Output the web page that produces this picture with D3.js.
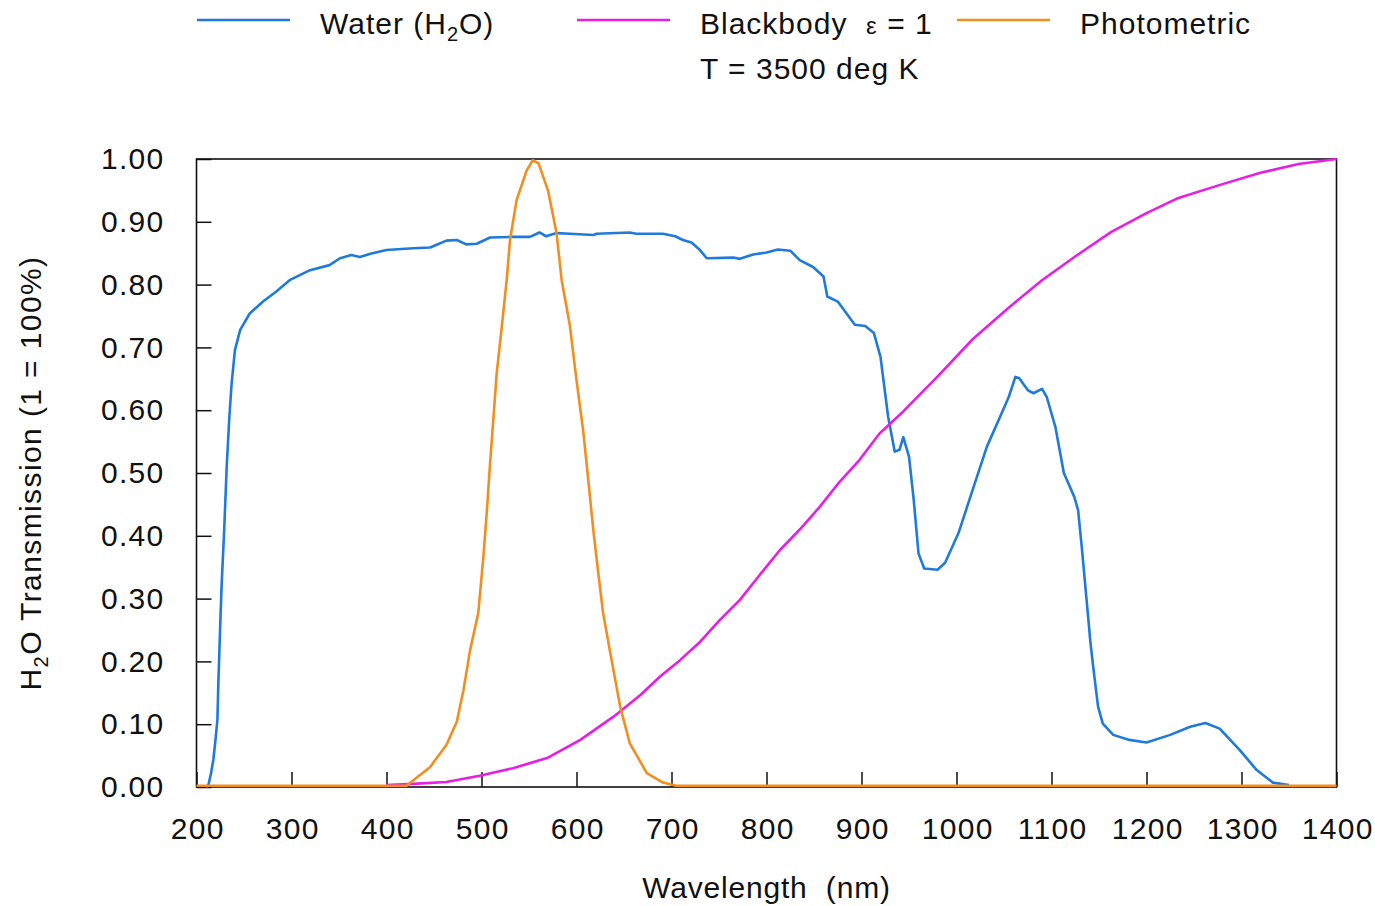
<!DOCTYPE html>
<html>
<head>
<meta charset="utf-8">
<script src="https://cdn.jsdelivr.net/npm/d3@7"></script>
<style>
    body { margin: 0; background: #fff; }
    text { font-family: "Liberation Sans", Arial, sans-serif; fill: #111; white-space: pre; }
</style>
</head>
<body>
<div class="container"></div>
<script>
// wavelength (nm), transmission (1 = 100%)
var waterData = [
    [210,0],[212.5,0.003],[215,0.02],[217.7,0.043],[220,0.075],[222,0.107],[223,0.165],[224.7,0.245],
    [226.5,0.324],[229,0.404],[231.8,0.51],[234.6,0.59],[237,0.643],[240.5,0.696],[246,0.728],[256,0.754],
    [270,0.773],[284,0.789],[298,0.807],[319.5,0.823],[340,0.831],[351,0.842],[363,0.847],[372,0.844],
    [383,0.849],[400,0.855],[428,0.858],[446,0.859],[463,0.87],[474,0.871],[484,0.864],[495,0.865],
    [509,0.875],[533,0.876],[551,0.876],[561,0.883],[568,0.877],[579,0.882],[593,0.881],[618,0.879],
    [621,0.881],[656,0.883],[663,0.881],[691,0.881],[704,0.877],[712,0.871],[721,0.867],[730,0.855],
    [737,0.842],[765,0.843],[772,0.841],[786,0.848],[800,0.851],[812,0.856],[825,0.854],[835,0.839],
    [849,0.828],[860,0.813],[864,0.781],[875,0.773],[893,0.736],[904,0.734],[913,0.723],[920,0.685],
    [928,0.59],[935,0.534],[940,0.537],[944,0.557],[950,0.526],[955,0.457],[960,0.372],[966,0.348],
    [980,0.346],[988,0.357],[1002,0.404],[1017,0.473],[1032,0.542],[1046,0.59],[1055,0.621],[1062,0.653],
    [1066,0.651],[1075,0.632],[1081,0.627],[1090,0.634],[1095,0.621],[1104,0.574],[1113,0.5],[1124,0.462],
    [1128,0.441],[1132,0.38],[1135,0.33],[1138,0.28],[1141,0.23],[1144,0.19],[1149,0.128],[1154,0.101],
    [1165,0.083],[1182,0.075],[1200,0.071],[1225,0.083],[1246,0.096],[1262,0.102],[1277,0.093],[1298,0.059],
    [1316,0.027],[1333,0.007],[1350,0.003]
];

var blackbodyData = [
    [400,0.003],[428,0.005],[463,0.008],[498,0.018],[533,0.03],[569,0.046],[604,0.075],[639,0.112],
    [667,0.146],[688,0.176],[709,0.202],[730,0.231],[751,0.266],[772,0.298],[793,0.338],[814,0.377],
    [835,0.41],[856,0.446],[877,0.486],[898,0.521],[919,0.563],[944,0.598],[981,0.655],[1017,0.713],
    [1054,0.762],[1090,0.807],[1126,0.846],[1163,0.884],[1199,0.913],[1232,0.937],[1280,0.96],
    [1320,0.978],[1360,0.992],[1400,1.0]
];

var photometricData = [
    [200,0.002],[421,0.002],[446,0.032],[463,0.067],[474,0.104],[481,0.154],[488,0.218],[496.6,0.277],
    [502,0.367],[505.5,0.436],[509,0.515],[512.4,0.584],[516,0.659],[521,0.728],[526.5,0.807],[530,0.871],
    [537,0.935],[547.6,0.982],[554,0.998],[560,0.993],[570,0.95],[579,0.882],[584.4,0.807],[593,0.735],
    [600,0.648],[607,0.568],[612.4,0.489],[617.7,0.409],[623,0.34],[628,0.277],[635,0.218],[646,0.128],
    [656,0.07],[674,0.022],[691,0.007],[705,0.002],[1400,0.002]
];

var xTicks = [200,300,400,500,600,700,800,900,1000,1100,1200,1300,1400];
var yTicks = [0,0.1,0.2,0.3,0.4,0.5,0.6,0.7,0.8,0.9,1.0];

var width = 1375, height = 906;
var plotLeft = 196.5, plotRight = 1336.5, plotTop = 159, plotBottom = 787;
var fontSize = 30;

var svg = d3.select(".container")
    .append("svg")
    .attr("width", width)
    .attr("height", height);

var x = d3.scaleLinear().domain([200, 1400]).range([plotLeft, plotRight]);
var y = d3.scaleLinear().domain([0, 1]).range([plotBottom, plotTop]);

// ticks point into the plot
var xAxis = svg.append("g")
    .attr("transform", "translate(0," + plotBottom + ")")
    .call(d3.axisBottom(x).tickValues(xTicks).tickSize(-15).tickPadding(31).tickFormat(d3.format("d")));
var yAxis = svg.append("g")
    .attr("transform", "translate(" + plotLeft + ",0)")
    .call(d3.axisLeft(y).tickValues(yTicks).tickSize(-15).tickPadding(32).tickFormat(d3.format(".2f")));

[xAxis, yAxis].forEach(function (g) {
    g.select(".domain").remove();
    g.selectAll(".tick line").attr("stroke", "#111").attr("stroke-width", 1.5);
    g.selectAll(".tick text")
        .style("font-family", '"Liberation Sans", Arial, sans-serif')
        .style("font-size", fontSize + "px")
        .style("letter-spacing", "1.3px")
        .attr("fill", "#111");
});
// letter-spacing pads the end, so recentre the bottom labels
xAxis.selectAll(".tick text").attr("dx", 0.65);

svg.append("rect")
    .attr("x", plotLeft).attr("y", plotTop)
    .attr("width", plotRight - plotLeft).attr("height", plotBottom - plotTop)
    .attr("fill", "none").attr("stroke", "#111").attr("stroke-width", 1.6);

var line = d3.line()
    .x(function (d) { return x(d[0]); })
    .y(function (d) { return y(d[1]); });

var series = [
    { name: "water", data: waterData, color: "#1f7ad9" },
    { name: "blackbody", data: blackbodyData, color: "#e61ee6" },
    { name: "photometric", data: photometricData, color: "#f28e1f" }
];

svg.selectAll(".series")
    .data(series)
    .enter()
    .append("path")
    .attr("class", "series")
    .attr("d", function (d) { return line(d.data); })
    .attr("fill", "none")
    .attr("stroke", function (d) { return d.color; })
    .attr("stroke-width", 2.6)
    .attr("stroke-linejoin", "round");

// legend
var legendX = [197, 577, 957];
var legend = svg.selectAll(".legend")
    .data(series)
    .enter()
    .append("g")
    .attr("class", "legend")
    .attr("transform", function (d, i) { return "translate(" + legendX[i] + ",0)"; });

legend.append("line")
    .attr("x1", 0).attr("x2", 93)
    .attr("y1", 20).attr("y2", 20)
    .attr("stroke", function (d) { return d.color; })
    .attr("stroke-width", 2.6);

var legendText = legend.append("text")
    .attr("x", 123).attr("y", 34)
    .style("font-size", fontSize + "px")
    .style("letter-spacing", "1px");

legendText.filter(function (d) { return d.name == "water"; })
    .each(function () {
        var t = d3.select(this);
        t.append("tspan").text("Water (H");
        t.append("tspan").attr("dy", 7).style("font-size", "20px").text("2");
        t.append("tspan").attr("dy", -7).text("O)");
    });
legendText.filter(function (d) { return d.name == "blackbody"; })
    .each(function () {
        var t = d3.select(this);
        t.append("tspan").text("Blackbody  ");
        t.append("tspan").style("font-size", "24px").text("ε");
        t.append("tspan").text(" = 1");
        t.append("tspan").attr("x", 123).attr("dy", 45).text("T = 3500 deg K");
    });
legendText.filter(function (d) { return d.name == "photometric"; })
    .text("Photometric");

// axis titles
svg.append("text")
    .attr("x", (plotLeft + plotRight) / 2)
    .attr("y", 898)
    .attr("text-anchor", "middle")
    .style("font-size", fontSize + "px")
    .style("letter-spacing", "0.8px")
    .text("Wavelength  (nm)");

var yTitle = svg.append("text")
    .attr("transform", "translate(41," + ((plotTop + plotBottom) / 2) + ") rotate(-90)")
    .attr("text-anchor", "middle")
    .style("font-size", fontSize + "px")
    .style("letter-spacing", "1.4px");
yTitle.append("tspan").text("H");
yTitle.append("tspan").attr("dy", 7).style("font-size", "20px").text("2");
yTitle.append("tspan").attr("dy", -7).text("O Transmission (1 = 100%)");
</script>
</body>
</html>
